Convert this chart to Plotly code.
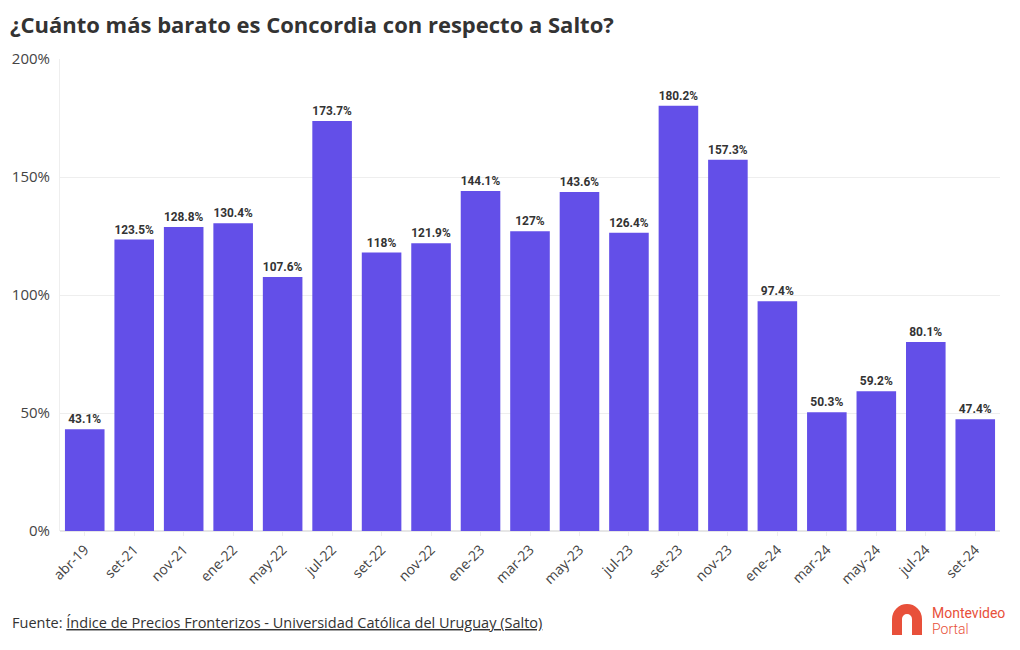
import plotly.graph_objects as go

categories = ["abr-19", "set-21", "nov-21", "ene-22", "may-22", "jul-22", "set-22", "nov-22",
              "ene-23", "mar-23", "may-23", "jul-23", "set-23", "nov-23", "ene-24", "mar-24",
              "may-24", "jul-24", "set-24"]
values = [43.1, 123.5, 128.8, 130.4, 107.6, 173.7, 118, 121.9, 144.1, 127, 143.6, 126.4,
          180.2, 157.3, 97.4, 50.3, 59.2, 80.1, 47.4]
y_ticks = [0, 50, 100, 150, 200]
y_tick_labels = ["0%", "50%", "100%", "150%", "200%"]

W, H = 1020, 650
L, R, T, B = 60, 20, 59, 119
pw, ph = W - L - R, H - T - B


def px(x):
    return (x - L) / pw


def py(y):
    return (H - B - y) / ph


fig = go.Figure(go.Bar(
    x=categories, y=values,
    marker=dict(color="#634fe8", line=dict(width=0)),
    text=[f"{v:g}%" for v in values],
    textposition="outside",
    textfont=dict(family="Roboto", size=12, color="#333333", weight="bold"),
    cliponaxis=False,
    hoverinfo="skip",
))

# logo arch
cx, cy, r, k = 907, 619, 10, 0.5523
bottom = 635
path = (f"M {px(cx-r)},{py(bottom)} L {px(cx-r)},{py(cy)} "
        f"C {px(cx-r)},{py(cy-k*r)} {px(cx-k*r)},{py(cy-r)} {px(cx)},{py(cy-r)} "
        f"C {px(cx+k*r)},{py(cy-r)} {px(cx+r)},{py(cy-k*r)} {px(cx+r)},{py(cy)} "
        f"L {px(cx+r)},{py(bottom)}")

fig.update_layout(
    width=W, height=H,
    margin=dict(l=L, r=R, t=T, b=B),
    paper_bgcolor="white", plot_bgcolor="white",
    bargap=0.2,
    showlegend=False,
    font=dict(family="Open Sans", color="#444444"),
    title=dict(text="<b>¿Cuánto más barato es Concordia con respecto a Salto?</b>",
               x=10 / W, xanchor="left", y=1 - 25 / H, yanchor="middle",
               font=dict(family="Open Sans", size=22, color="#333333")),
    xaxis=dict(tickangle=-45, tickfont=dict(size=14, color="#444444"),
               showgrid=False, showline=False, ticks="outside", ticklen=4,
               tickcolor="#eeeeee", fixedrange=True),
    yaxis=dict(range=[0, 200], tickvals=y_ticks, ticktext=y_tick_labels,
               tickfont=dict(size=15, color="#444444"), ticklabelstandoff=6,
               showgrid=True, gridcolor="#eeeeee", gridwidth=1,
               zeroline=True, zerolinecolor="#e6e6e6",
               showline=True, linecolor="#eeeeee", ticks="", fixedrange=True),
    shapes=[dict(type="path", xref="paper", yref="paper", path=path,
                 line=dict(color="#e8503a", width=10), fillcolor="rgba(0,0,0,0)")],
    annotations=[
        dict(text="Fuente: <u>Índice de Precios Fronterizos - Universidad Católica del Uruguay (Salto)</u>",
             xref="paper", yref="paper", x=px(10), y=py(622), xanchor="left", yanchor="middle",
             showarrow=False, font=dict(family="Open Sans", size=14.5, color="#333333")),
        dict(text="Montevideo", xref="paper", yref="paper", x=px(930), y=py(613),
             xanchor="left", yanchor="middle", showarrow=False,
             font=dict(family="Roboto", size=14, color="#e8503a")),
        dict(text="Portal", xref="paper", yref="paper", x=px(930), y=py(629),
             xanchor="left", yanchor="middle", showarrow=False,
             font=dict(family="Roboto", size=14, color="#e8503a", weight=300)),
    ],
)

fig.write_html("out.html", config={"displayModeBar": False},
               post_script="document.body.style.margin='0';")
